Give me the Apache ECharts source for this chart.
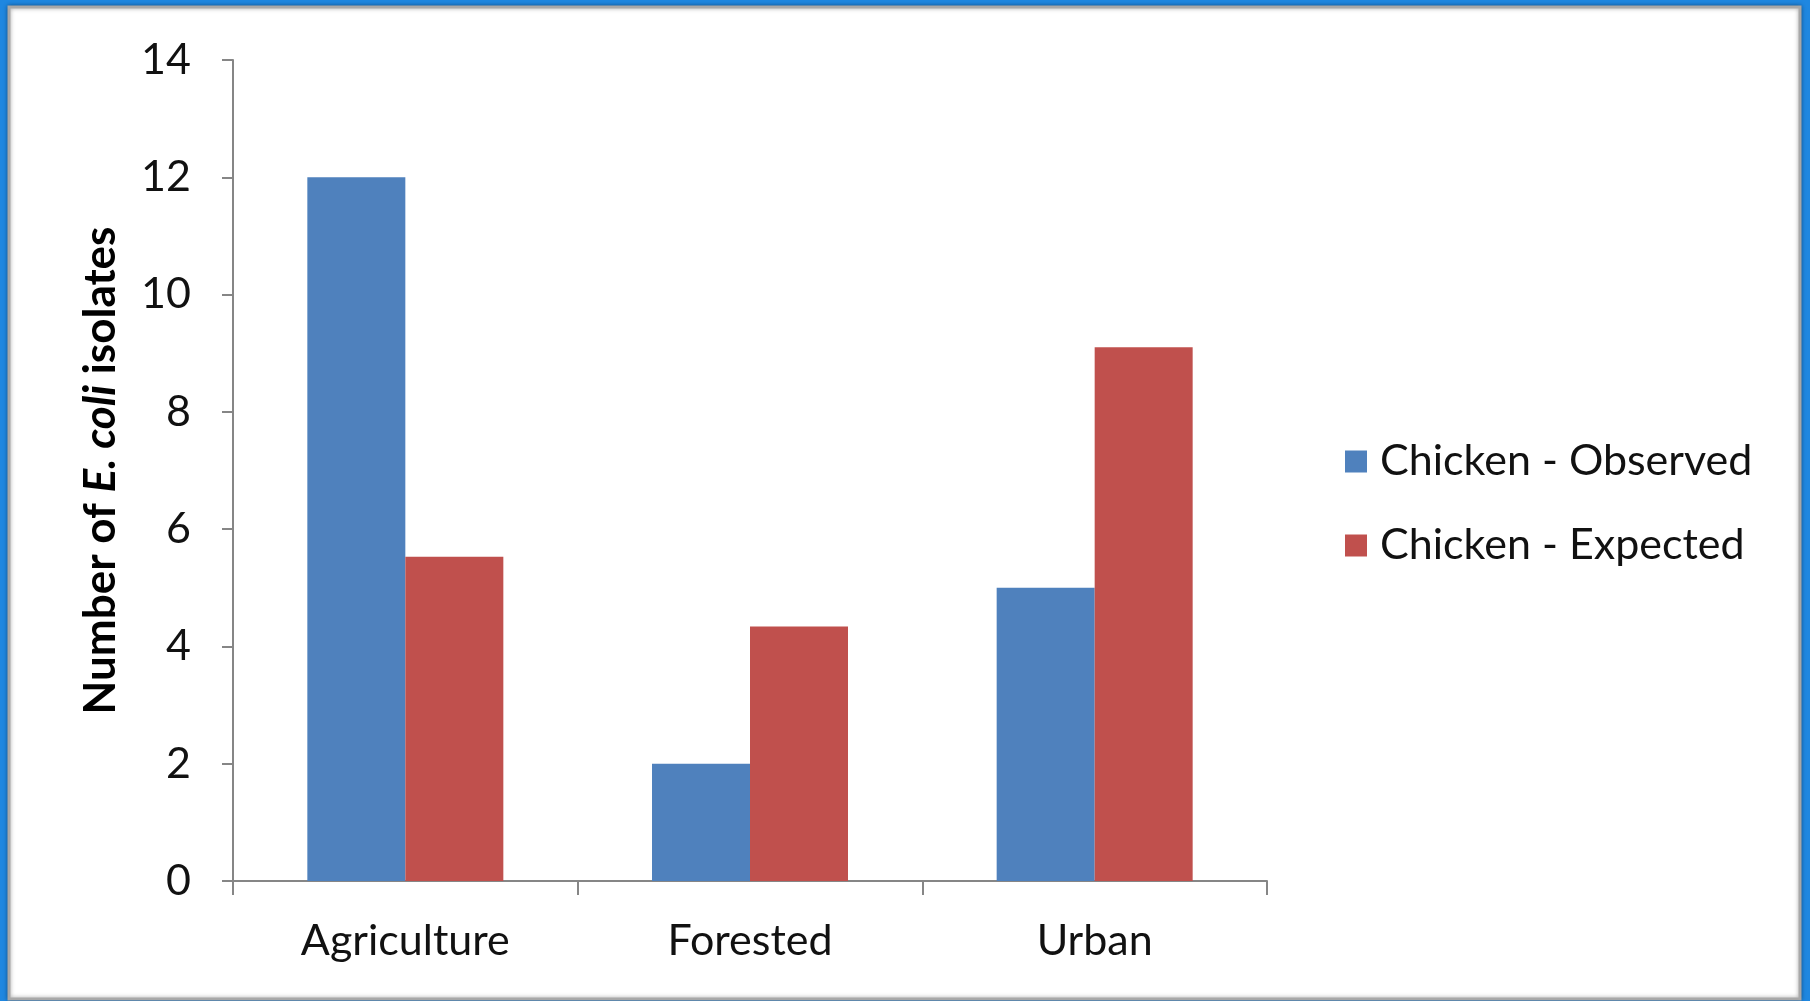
<!DOCTYPE html>
<html>
<head>
<meta charset="utf-8">
<title>E. coli isolates by land use</title>
<script src="https://cdn.jsdelivr.net/npm/echarts@6/dist/echarts.min.js"></script>
<style>
  html, body { margin: 0; padding: 0; background: #1f87e0; }
  #chart { width: 1810px; height: 1001px; }
</style>
</head>
<body>
<div id="chart"></div>
<script>
// Land-use categories and isolate counts
const categories = ['Agriculture', 'Forested', 'Urban'];
const observed = [12, 2, 5];
const expected = [5.53, 4.34, 9.1];
const seriesNames = ['Chicken - Observed', 'Chicken - Expected'];
const yTicks = { min: 0, max: 14, interval: 2 };

const FONT = 'Lato, "Open Sans", sans-serif';
const AXIS_GRAY = '#868686';

const chart = echarts.init(document.getElementById('chart'), null, { renderer: 'canvas' });

chart.setOption({
  backgroundColor: '#1f87e0',
  animation: false,
  graphic: [
    {
      type: 'rect',
      z: -10,
      silent: true,
      shape: { x: 9, y: 7, width: 1791, height: 992 },
      style: {
        fill: '#ffffff',
        stroke: '#a8a8a8',
        lineWidth: 3,
        shadowBlur: 4,
        shadowColor: 'rgba(0,0,0,0.35)'
      }
    }
  ],
  grid: { left: 233, right: 543, top: 60, bottom: 120 },
  legend: {
    orient: 'vertical',
    left: 1340,
    top: 435,
    itemWidth: 22,
    itemHeight: 22,
    itemGap: 41,
    icon: 'rect',
    textStyle: { fontFamily: FONT, fontSize: 43, color: '#111', lineHeight: 43, padding: [0, 0, 0, 8] },
    data: seriesNames
  },
  xAxis: {
    type: 'category',
    data: categories,
    boundaryGap: true,
    axisLine: { lineStyle: { color: AXIS_GRAY, width: 2 } },
    axisTick: { show: true, length: 14, lineStyle: { color: AXIS_GRAY, width: 2 } },
    axisLabel: { fontFamily: FONT, fontSize: 43, color: '#111', margin: 39 }
  },
  yAxis: {
    type: 'value',
    min: yTicks.min,
    max: yTicks.max,
    interval: yTicks.interval,
    name: '{b|Number of }{bi|E. coli}{b| isolates}',
    nameLocation: 'middle',
    nameRotate: 90,
    nameGap: 110,
    nameTextStyle: {
      rich: {
        b: { fontFamily: FONT, fontSize: 44, fontWeight: 'bold', color: '#000' },
        bi: { fontFamily: FONT, fontSize: 44, fontWeight: 'bold', fontStyle: 'italic', color: '#000' }
      }
    },
    splitLine: { show: false },
    axisLine: { show: true, lineStyle: { color: AXIS_GRAY, width: 2 } },
    axisTick: { show: true, length: 11, lineStyle: { color: AXIS_GRAY, width: 2 } },
    axisLabel: { fontFamily: FONT, fontSize: 43, color: '#111', margin: 42 }
  },
  series: [
    {
      name: seriesNames[0],
      type: 'bar',
      data: observed,
      barWidth: 98,
      barGap: '0%',
      itemStyle: { color: '#4f81bd' }
    },
    {
      name: seriesNames[1],
      type: 'bar',
      data: expected,
      barWidth: 98,
      barGap: '0%',
      itemStyle: { color: '#c0504d' }
    }
  ]
});
</script>
</body>
</html>
